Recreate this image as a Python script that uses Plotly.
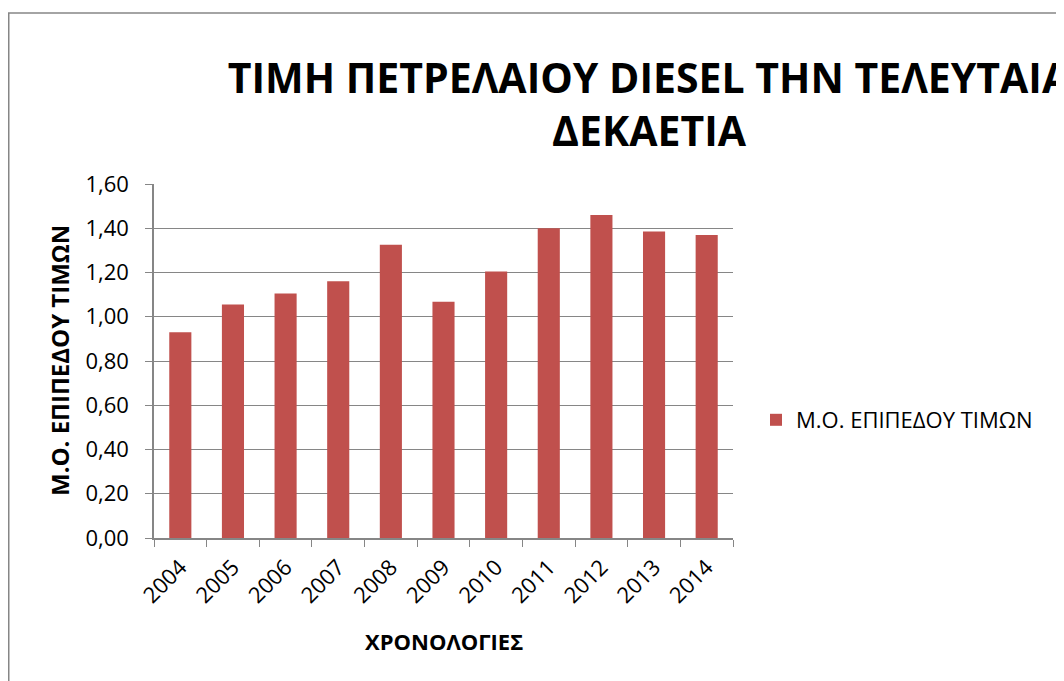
import plotly.graph_objects as go

years = ['2004', '2005', '2006', '2007', '2008', '2009', '2010', '2011', '2012', '2013', '2014']
avg_price = [0.93, 1.055, 1.105, 1.16, 1.325, 1.068, 1.205, 1.40, 1.46, 1.385, 1.37]
series_name = 'Μ.Ο. ΕΠΙΠΕΔΟΥ ΤΙΜΩΝ'
y_ticks = [0, 0.2, 0.4, 0.6, 0.8, 1.0, 1.2, 1.4, 1.6]

font_main = 'Open Sans'
grid_col = '#868686'

# plot area in figure pixels (page body adds 8px offset)
L, T, W, H = 146, 176, 579, 354
B = T + H

fig = go.Figure(go.Bar(x=years, y=avg_price, name=series_name,
                       marker=dict(color='#C0504D', line=dict(width=0)),
                       width=0.42, showlegend=True))

fig.update_layout(
    width=1064, height=681,
    margin=dict(l=L, r=1064 - L - W, t=T, b=681 - B),
    paper_bgcolor='white', plot_bgcolor='white',
    separators=',.',
    font=dict(family=font_main, color='black', size=22),
    title=dict(text='<b>ΤΙΜΗ ΠΕΤΡΕΛΑΙΟΥ DIESEL ΤΗΝ ΤΕΛΕΥΤΑΙΑ<br>ΔΕΚΑΕΤΙΑ</b>',
               font=dict(family=font_main, size=41, color='black'),
               x=641 / 1064, xanchor='center', y=1 - 85 / 681, yanchor='middle'),
    showlegend=True,
    legend=dict(x=(748 - L) / W, xanchor='left', y=(B - 412) / H, yanchor='middle',
                font=dict(size=22), itemwidth=30, bgcolor='rgba(0,0,0,0)'),
    shapes=[dict(type='rect', xref='paper', yref='paper',
                 x0=(0.75 - L) / W, x1=1.7, y0=-0.6, y1=(B - 5) / H,
                 line=dict(color=grid_col, width=1.5), layer='below')],
    annotations=[
        dict(text='<b>Μ.Ο. ΕΠΙΠΕΔΟΥ ΤΙΜΩΝ</b>', textangle=-90, showarrow=False,
             xref='paper', yref='paper', x=(51 - L) / W, y=0.5,
             xanchor='center', yanchor='middle', font=dict(size=24)),
        dict(text='<b>ΧΡΟΝΟΛΟΓΙΕΣ</b>', showarrow=False,
             xref='paper', yref='paper', x=0.5, y=(B - 633) / H,
             xanchor='center', yanchor='middle', font=dict(size=22)),
    ],
)

fig.update_xaxes(type='category', showline=True, linecolor=grid_col, linewidth=1.5,
                 ticks='outside', tickson='boundaries', ticklen=7, tickcolor=grid_col,
                 tickangle=-45, tickfont=dict(size=22), ticklabelstandoff=6)

fig.update_yaxes(range=[0, 1.6], tickvals=y_ticks, tickformat='.2f',
                 showline=True, linecolor=grid_col, linewidth=1.5,
                 ticks='outside', ticklen=7, tickcolor=grid_col,
                 showgrid=True, gridcolor=grid_col, gridwidth=1.3, zeroline=False,
                 tickfont=dict(size=22), ticklabelstandoff=12)

fig.write_html('out.html')
